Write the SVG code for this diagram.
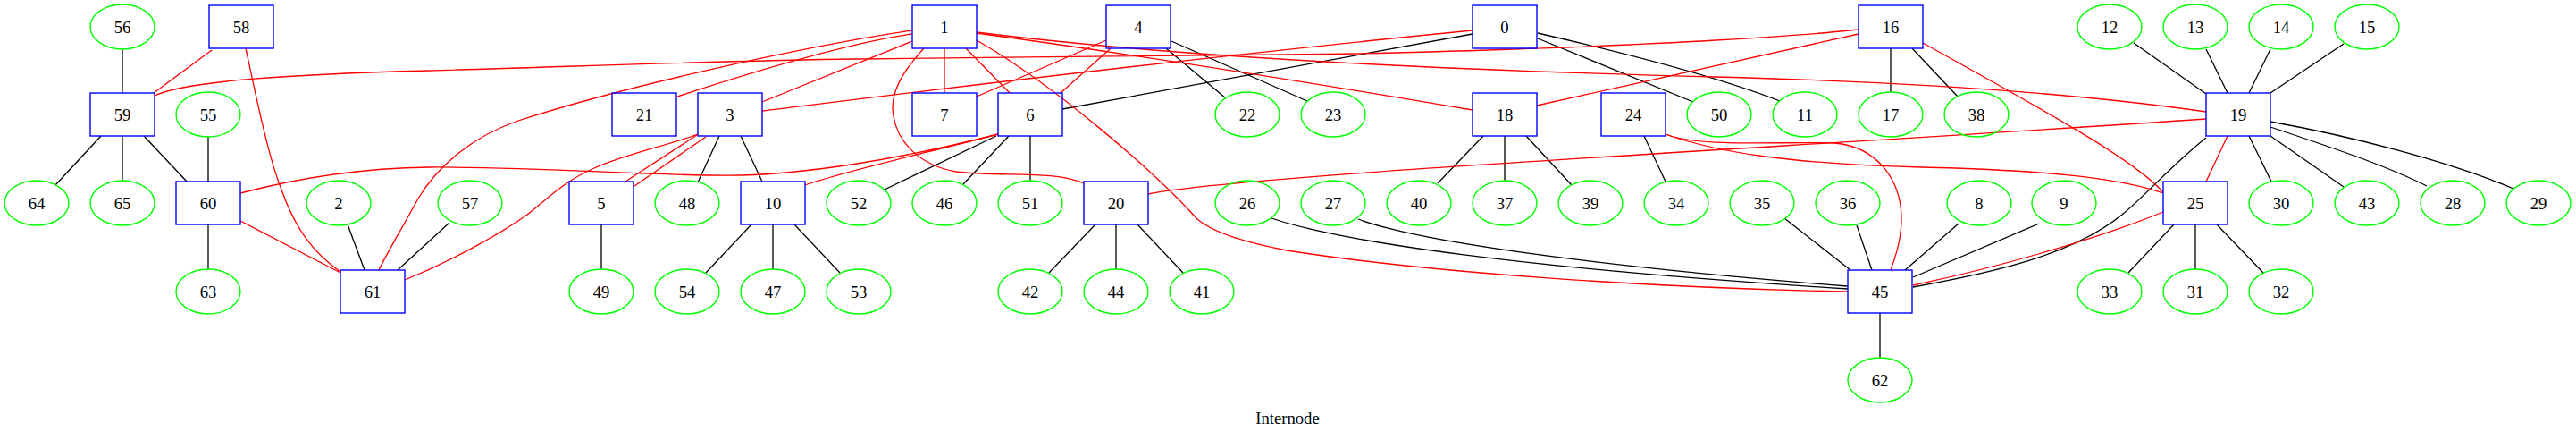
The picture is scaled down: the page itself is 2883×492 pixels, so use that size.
<svg xmlns="http://www.w3.org/2000/svg" width="2883" height="492" viewBox="0 0 2883 492">
<style>
.bx rect{fill:none;stroke:#0000ff;stroke-width:1.4}
.el ellipse{fill:none;stroke:#00ff00;stroke-width:1.4}
text{font-family:"Liberation Serif","Times New Roman",serif;font-size:18.67px;text-anchor:middle;fill:#000}
.k{fill:none;stroke:#000;stroke-width:1.3}
.r{fill:none;stroke:#ff0000;stroke-width:1.3}
</style>
<rect width="2883" height="492" fill="#fff"/>
<g id="edges">
<path class="k" d="M137,55 L137,104"/>
<path class="k" d="M113,152 L62,207"/>
<path class="k" d="M137,152 L137,202"/>
<path class="k" d="M161,152 L209,203"/>
<path class="k" d="M233,153 L233,203"/>
<path class="k" d="M233,251 L233,301"/>
<path class="k" d="M389,251 L408,302"/>
<path class="k" d="M503,249 L445,302"/>
<path class="k" d="M805,152 L781,204"/>
<path class="k" d="M829,152 L853,203"/>
<path class="k" d="M673,251 L673,301"/>
<path class="k" d="M841,251 L790,305"/>
<path class="k" d="M865,251 L865,301"/>
<path class="k" d="M889,251 L940,305"/>
<path class="k" d="M1115,152 L990,212"/>
<path class="k" d="M1129,152 L1078,206"/>
<path class="k" d="M1153,152 L1153,202"/>
<path class="k" d="M1648,38 L1189,122"/>
<path class="k" d="M1305,54 L1372,110"/>
<path class="k" d="M1311,46 L1463,113"/>
<path class="k" d="M1721,43 L1895,114"/>
<path class="k" d="M1721,37 C1800,55 1920,85 1992,113"/>
<path class="k" d="M1226,251 L1174,305"/>
<path class="k" d="M1249,251 L1249,301"/>
<path class="k" d="M1273,251 L1324,305"/>
<path class="k" d="M1660,152 L1609,205"/>
<path class="k" d="M1684,152 L1684,202"/>
<path class="k" d="M1708,152 L1759,207"/>
<path class="k" d="M1840,152 L1864,203"/>
<path class="k" d="M2116,54 L2116,103"/>
<path class="k" d="M2140,54 L2191,108"/>
<path class="k" d="M2388,48 L2469,105"/>
<path class="k" d="M2469,55 L2493,104"/>
<path class="k" d="M2541,55 L2517,104"/>
<path class="k" d="M2623,49 L2541,104"/>
<path class="k" d="M2517,152 L2542,203"/>
<path class="k" d="M2541,152 L2623,209"/>
<path class="k" d="M2541,142 C2610,165 2670,185 2716,208"/>
<path class="k" d="M2541,136 C2630,152 2740,180 2813,211"/>
<path class="k" d="M2433,251 L2382,305"/>
<path class="k" d="M2457,251 L2457,301"/>
<path class="k" d="M2481,251 L2533,305"/>
<path class="k" d="M1997,244 L2071,302"/>
<path class="k" d="M2078,252 L2095,302"/>
<path class="k" d="M2192,250 L2132,302"/>
<path class="k" d="M2282,250 L2141,310"/>
<path class="k" d="M2104,350 L2104,400"/>
<path class="k" d="M2469,154 C2430,185 2400,220 2375,240 C2320,285 2230,305 2141,321"/>
<path class="k" d="M1423,244 C1500,270 1700,300 2068,323"/>
<path class="k" d="M1520,245 C1600,275 1850,303 2068,320"/>
<path class="r" d="M237,56 L172,104"/>
<path class="r" d="M275,54 C285,100 300,175 315,212 C330,255 350,282 381,304"/>
<path class="r" d="M173,107 C210,90 330,83 480,79 S800,68 960,66 S1300,62 1440,61 S1800,52 1920,45 S2050,36 2080,33"/>
<path class="r" d="M269,216 C330,200 400,188 480,187 C600,186 750,198 830,196 C900,194 1000,180 1117,150"/>
<path class="r" d="M269,247 L381,305"/>
<path class="r" d="M901,207 C940,193 1020,175 1117,150"/>
<path class="r" d="M780,151 L700,203"/>
<path class="r" d="M790,153 L710,208"/>
<path class="r" d="M781,150 C750,162 700,172 665,188 C630,203 610,225 590,240 C565,258 510,290 453,313"/>
<path class="r" d="M1021,34 C900,52 700,96 580,135 C530,152 490,185 468,222 C450,255 432,285 424,302"/>
<path class="r" d="M1021,38 C950,48 850,78 758,108"/>
<path class="r" d="M1021,46 L853,114"/>
<path class="r" d="M1057,54 L1057,104"/>
<path class="r" d="M1081,54 L1130,104"/>
<path class="r" d="M1034,54 C1010,80 995,105 1000,130 C1005,160 1030,185 1070,192 C1120,198 1180,190 1213,205"/>
<path class="r" d="M1093,45 C1180,95 1290,190 1340,245 C1360,262 1400,272 1440,280 C1600,305 1850,322 2068,326"/>
<path class="r" d="M1093,37 C1300,65 1500,98 1648,123"/>
<path class="r" d="M1093,36 C1300,62 1600,78 1920,86 C2150,92 2330,105 2469,125"/>
<path class="r" d="M853,124 C1000,106 1300,68 1648,34"/>
<path class="r" d="M1238,45 L1093,108"/>
<path class="r" d="M1243,54 L1187,104"/>
<path class="r" d="M2080,38 L1720,118"/>
<path class="r" d="M2152,48 C2300,130 2390,180 2421,215"/>
<path class="r" d="M1285,217 C1380,196 2000,165 2469,133"/>
<path class="r" d="M1864,150 C1920,170 2000,183 2150,187 C2280,190 2370,198 2421,216"/>
<path class="r" d="M1864,150 C1900,165 1990,158 2053,160 C2100,164 2128,200 2128,245 C2128,270 2120,290 2116,302"/>
<path class="r" d="M2493,152 L2469,203"/>
<path class="r" d="M2421,237 C2340,270 2230,300 2141,319"/>
</g>
<g id="node-58" class="bx"><rect x="234" y="6" width="72" height="48"/><text x="270" y="36.5">58</text></g>
<g id="node-1" class="bx"><rect x="1021" y="6" width="72" height="48"/><text x="1057" y="36.5">1</text></g>
<g id="node-4" class="bx"><rect x="1238" y="6" width="72" height="48"/><text x="1274" y="36.5">4</text></g>
<g id="node-0" class="bx"><rect x="1648" y="6" width="72" height="48"/><text x="1684" y="36.5">0</text></g>
<g id="node-16" class="bx"><rect x="2080" y="6" width="72" height="48"/><text x="2116" y="36.5">16</text></g>
<g id="node-59" class="bx"><rect x="101" y="104" width="72" height="48"/><text x="137" y="134.5">59</text></g>
<g id="node-21" class="bx"><rect x="685" y="104" width="72" height="48"/><text x="721" y="134.5">21</text></g>
<g id="node-3" class="bx"><rect x="781" y="104" width="72" height="48"/><text x="817" y="134.5">3</text></g>
<g id="node-7" class="bx"><rect x="1021" y="104" width="72" height="48"/><text x="1057" y="134.5">7</text></g>
<g id="node-6" class="bx"><rect x="1117" y="104" width="72" height="48"/><text x="1153" y="134.5">6</text></g>
<g id="node-18" class="bx"><rect x="1648" y="104" width="72" height="48"/><text x="1684" y="134.5">18</text></g>
<g id="node-24" class="bx"><rect x="1792" y="104" width="72" height="48"/><text x="1828" y="134.5">24</text></g>
<g id="node-19" class="bx"><rect x="2469" y="104" width="72" height="48"/><text x="2505" y="134.5">19</text></g>
<g id="node-60" class="bx"><rect x="197" y="203" width="72" height="48"/><text x="233" y="233.5">60</text></g>
<g id="node-5" class="bx"><rect x="637" y="203" width="72" height="48"/><text x="673" y="233.5">5</text></g>
<g id="node-10" class="bx"><rect x="829" y="203" width="72" height="48"/><text x="865" y="233.5">10</text></g>
<g id="node-20" class="bx"><rect x="1213" y="203" width="72" height="48"/><text x="1249" y="233.5">20</text></g>
<g id="node-25" class="bx"><rect x="2421" y="203" width="72" height="48"/><text x="2457" y="233.5">25</text></g>
<g id="node-61" class="bx"><rect x="381" y="302" width="72" height="48"/><text x="417" y="332.5">61</text></g>
<g id="node-45" class="bx"><rect x="2068" y="302" width="72" height="48"/><text x="2104" y="332.5">45</text></g>
<g id="node-56" class="el"><ellipse cx="137" cy="30" rx="36" ry="25"/><text x="137" y="36.5">56</text></g>
<g id="node-12" class="el"><ellipse cx="2361" cy="30" rx="36" ry="25"/><text x="2361" y="36.5">12</text></g>
<g id="node-13" class="el"><ellipse cx="2457" cy="30" rx="36" ry="25"/><text x="2457" y="36.5">13</text></g>
<g id="node-14" class="el"><ellipse cx="2553" cy="30" rx="36" ry="25"/><text x="2553" y="36.5">14</text></g>
<g id="node-15" class="el"><ellipse cx="2649" cy="30" rx="36" ry="25"/><text x="2649" y="36.5">15</text></g>
<g id="node-55" class="el"><ellipse cx="233" cy="128" rx="36" ry="25"/><text x="233" y="134.5">55</text></g>
<g id="node-22" class="el"><ellipse cx="1396" cy="128" rx="36" ry="25"/><text x="1396" y="134.5">22</text></g>
<g id="node-23" class="el"><ellipse cx="1492" cy="128" rx="36" ry="25"/><text x="1492" y="134.5">23</text></g>
<g id="node-50" class="el"><ellipse cx="1924" cy="128" rx="36" ry="25"/><text x="1924" y="134.5">50</text></g>
<g id="node-11" class="el"><ellipse cx="2020" cy="128" rx="36" ry="25"/><text x="2020" y="134.5">11</text></g>
<g id="node-17" class="el"><ellipse cx="2116" cy="128" rx="36" ry="25"/><text x="2116" y="134.5">17</text></g>
<g id="node-38" class="el"><ellipse cx="2212" cy="128" rx="36" ry="25"/><text x="2212" y="134.5">38</text></g>
<g id="node-64" class="el"><ellipse cx="41" cy="227" rx="36" ry="25"/><text x="41" y="233.5">64</text></g>
<g id="node-65" class="el"><ellipse cx="137" cy="227" rx="36" ry="25"/><text x="137" y="233.5">65</text></g>
<g id="node-2" class="el"><ellipse cx="379" cy="227" rx="36" ry="25"/><text x="379" y="233.5">2</text></g>
<g id="node-57" class="el"><ellipse cx="526" cy="227" rx="36" ry="25"/><text x="526" y="233.5">57</text></g>
<g id="node-48" class="el"><ellipse cx="769" cy="227" rx="36" ry="25"/><text x="769" y="233.5">48</text></g>
<g id="node-52" class="el"><ellipse cx="961" cy="227" rx="36" ry="25"/><text x="961" y="233.5">52</text></g>
<g id="node-46" class="el"><ellipse cx="1057" cy="227" rx="36" ry="25"/><text x="1057" y="233.5">46</text></g>
<g id="node-51" class="el"><ellipse cx="1153" cy="227" rx="36" ry="25"/><text x="1153" y="233.5">51</text></g>
<g id="node-26" class="el"><ellipse cx="1396" cy="227" rx="36" ry="25"/><text x="1396" y="233.5">26</text></g>
<g id="node-27" class="el"><ellipse cx="1492" cy="227" rx="36" ry="25"/><text x="1492" y="233.5">27</text></g>
<g id="node-40" class="el"><ellipse cx="1588" cy="227" rx="36" ry="25"/><text x="1588" y="233.5">40</text></g>
<g id="node-37" class="el"><ellipse cx="1684" cy="227" rx="36" ry="25"/><text x="1684" y="233.5">37</text></g>
<g id="node-39" class="el"><ellipse cx="1780" cy="227" rx="36" ry="25"/><text x="1780" y="233.5">39</text></g>
<g id="node-34" class="el"><ellipse cx="1876" cy="227" rx="36" ry="25"/><text x="1876" y="233.5">34</text></g>
<g id="node-35" class="el"><ellipse cx="1972" cy="227" rx="36" ry="25"/><text x="1972" y="233.5">35</text></g>
<g id="node-36" class="el"><ellipse cx="2068" cy="227" rx="36" ry="25"/><text x="2068" y="233.5">36</text></g>
<g id="node-8" class="el"><ellipse cx="2215" cy="227" rx="36" ry="25"/><text x="2215" y="233.5">8</text></g>
<g id="node-9" class="el"><ellipse cx="2310" cy="227" rx="36" ry="25"/><text x="2310" y="233.5">9</text></g>
<g id="node-30" class="el"><ellipse cx="2553" cy="227" rx="36" ry="25"/><text x="2553" y="233.5">30</text></g>
<g id="node-43" class="el"><ellipse cx="2649" cy="227" rx="36" ry="25"/><text x="2649" y="233.5">43</text></g>
<g id="node-28" class="el"><ellipse cx="2745" cy="227" rx="36" ry="25"/><text x="2745" y="233.5">28</text></g>
<g id="node-29" class="el"><ellipse cx="2841" cy="227" rx="36" ry="25"/><text x="2841" y="233.5">29</text></g>
<g id="node-63" class="el"><ellipse cx="233" cy="326" rx="36" ry="25"/><text x="233" y="332.5">63</text></g>
<g id="node-49" class="el"><ellipse cx="673" cy="326" rx="36" ry="25"/><text x="673" y="332.5">49</text></g>
<g id="node-54" class="el"><ellipse cx="769" cy="326" rx="36" ry="25"/><text x="769" y="332.5">54</text></g>
<g id="node-47" class="el"><ellipse cx="865" cy="326" rx="36" ry="25"/><text x="865" y="332.5">47</text></g>
<g id="node-53" class="el"><ellipse cx="961" cy="326" rx="36" ry="25"/><text x="961" y="332.5">53</text></g>
<g id="node-42" class="el"><ellipse cx="1153" cy="326" rx="36" ry="25"/><text x="1153" y="332.5">42</text></g>
<g id="node-44" class="el"><ellipse cx="1249" cy="326" rx="36" ry="25"/><text x="1249" y="332.5">44</text></g>
<g id="node-41" class="el"><ellipse cx="1345" cy="326" rx="36" ry="25"/><text x="1345" y="332.5">41</text></g>
<g id="node-33" class="el"><ellipse cx="2361" cy="326" rx="36" ry="25"/><text x="2361" y="332.5">33</text></g>
<g id="node-31" class="el"><ellipse cx="2457" cy="326" rx="36" ry="25"/><text x="2457" y="332.5">31</text></g>
<g id="node-32" class="el"><ellipse cx="2553" cy="326" rx="36" ry="25"/><text x="2553" y="332.5">32</text></g>
<g id="node-62" class="el"><ellipse cx="2104" cy="425" rx="36" ry="25"/><text x="2104" y="431.5">62</text></g>
<text id="title" x="1441" y="474">Internode</text>
</svg>
